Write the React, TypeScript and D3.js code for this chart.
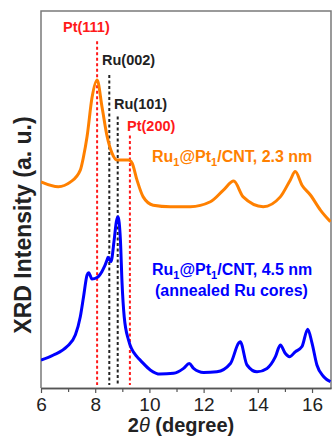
import React, { useEffect, useRef } from 'react';
import * as d3 from 'd3';

const orangeTheta = [6.0, 6.64, 7.08, 7.45, 7.57, 7.7, 7.88, 8.07, 8.25, 8.44, 8.62, 8.8, 9.04, 9.23, 9.36, 9.54, 9.77, 10.14, 10.77, 11.51, 12.25, 12.73, 13.11, 13.46, 14.2, 14.83, 15.2, 15.38, 15.63, 15.94, 16.31, 16.68];
const orangeInt = [54.7, 53.4, 54.6, 57.8, 61.4, 66.7, 76.9, 81.7, 74.6, 66.7, 62.3, 60.5, 60.5, 60.5, 59.7, 55.2, 50.7, 48.5, 48.1, 48.1, 49.4, 52.5, 54.9, 50.7, 48.1, 50.7, 55.2, 57.4, 53.8, 51.2, 47.2, 44.1];

const blueTheta = [6.0, 6.46, 6.96, 7.27, 7.45, 7.57, 7.7, 7.76, 7.88, 8.07, 8.25, 8.44, 8.47, 8.58, 8.7, 8.78, 8.84, 8.93, 8.99, 9.07, 9.23, 9.54, 9.66, 10.03, 10.39, 10.89, 11.26, 11.47, 11.63, 12.0, 12.49, 12.99, 13.29, 13.35, 13.6, 13.97, 14.34, 14.65, 14.83, 15.01, 15.17, 15.38, 15.63, 15.84, 16.0, 16.18, 16.43, 16.68];
const blueInt = [7.4, 8.75, 11.0, 14.1, 18.9, 24.2, 30.0, 30.6, 28.9, 29.3, 30.9, 34.0, 34.7, 33.5, 39.3, 44.1, 45.4, 39.3, 27.9, 18.9, 12.7, 8.3, 7.4, 4.8, 3.7, 3.9, 5.2, 6.5, 5.2, 4.1, 4.3, 6.5, 11.9, 12.3, 6.1, 4.3, 5.2, 8.3, 11.4, 9.2, 8.3, 9.6, 11.0, 15.6, 11.9, 6.1, 3.0, 1.7];

const refLabels = ['Pt(111)', 'Ru(002)', 'Ru(101)', 'Pt(200)'];
const refTheta = [8.07, 8.52, 8.83, 9.28];
const refTop = [92, 83, 72, 67];
const refColor = ['#ff1a1a', '#222222', '#222222', '#ff1a1a'];

const majorTicks = [6, 8, 10, 12, 14, 16];
const minorTicks = [7, 9, 11, 13, 15];

const W = 334;
const H = 438;

const App = () => {
  const svgRef = useRef<SVGSVGElement>(null);

  useEffect(() => {
    const svg = d3.select(svgRef.current);
    svg.selectAll('*').remove();

    const left = 41, right = 331, top = 11, bottom = 388;
    const font = 'Liberation Sans, Arial, sans-serif';

    const x = d3.scaleLinear().domain([6, 16.7]).range([left, right]);
    const y = d3.scaleLinear().domain([0, 100]).range([bottom, top]);

    svg.append('defs').append('clipPath').attr('id', 'plot')
      .append('rect').attr('x', left).attr('y', top).attr('width', right - left).attr('height', bottom - top);

    // frame
    svg.append('path')
      .attr('d', `M${left},${bottom}V${top}H${right}V${bottom}`)
      .attr('fill', 'none').attr('stroke', '#7a7a7a').attr('stroke-width', 1.5);

    // reference lines
    refTheta.forEach((t, i) => {
      svg.append('line')
        .attr('x1', x(t)).attr('x2', x(t))
        .attr('y1', y(refTop[i])).attr('y2', bottom - 3)
        .attr('stroke', refColor[i]).attr('stroke-width', 2)
        .attr('stroke-dasharray', '3,2.5');
    });

    const line = d3.line<number>()
      .x((d, i) => x(d))
      .curve(d3.curveMonotoneX);

    const plot = svg.append('g').attr('clip-path', 'url(#plot)');
    plot.append('path')
      .attr('d', line.y((d, i) => y(orangeInt[i]))(orangeTheta))
      .attr('fill', 'none').attr('stroke', '#ff8000').attr('stroke-width', 3)
      .attr('stroke-linejoin', 'round');
    plot.append('path')
      .attr('d', line.y((d, i) => y(blueInt[i]))(blueTheta))
      .attr('fill', 'none').attr('stroke', '#0000ff').attr('stroke-width', 3)
      .attr('stroke-linejoin', 'round');

    // reference labels
    const labelPos = [[63, 32], [102, 65], [114, 109], [127, 131]];
    refLabels.forEach((l, i) => {
      svg.append('text')
        .attr('x', labelPos[i][0]).attr('y', labelPos[i][1])
        .attr('font-family', font).attr('font-weight', 'bold').attr('font-size', 14.5)
        .attr('fill', refColor[i])
        .text(l);
    });

    // legends
    const legend = (tx: number, ty: number, color: string, tail: string) => {
      const t = svg.append('text').attr('x', tx).attr('y', ty)
        .attr('font-family', font).attr('font-weight', 'bold').attr('font-size', 16)
        .attr('fill', color);
      t.append('tspan').text('Ru');
      t.append('tspan').attr('dy', 4).attr('font-size', 11).text('1');
      t.append('tspan').attr('dy', -4).text('@Pt');
      t.append('tspan').attr('dy', 4).attr('font-size', 11).text('1');
      t.append('tspan').attr('dy', -4).text('/CNT, ' + tail);
    };
    legend(152, 162, '#ff8000', '2.3 nm');
    legend(152, 275, '#0000ff', '4.5 nm');
    svg.append('text').attr('x', 155).attr('y', 296)
      .attr('font-family', font).attr('font-weight', 'bold').attr('font-size', 16)
      .attr('fill', '#0000ff').text('(annealed Ru cores)');

    // x axis
    const ax = svg.append('g').attr('transform', `translate(0,${bottom})`);
    ax.call(d3.axisBottom(x).tickValues(majorTicks).tickSize(5).tickSizeOuter(0).tickPadding(5).tickFormat(d3.format('d')));
    ax.append('g').call(d3.axisBottom(x).tickValues(minorTicks).tickSize(4).tickSizeOuter(0).tickFormat(() => ''));
    ax.selectAll('.domain').attr('stroke', '#555').attr('stroke-width', 1.5);
    ax.selectAll('line').attr('stroke', '#555').attr('stroke-width', 1.2);
    ax.selectAll('text').attr('font-family', font).attr('font-size', 19).attr('fill', '#222');

    const xl = svg.append('text').attr('x', 181).attr('y', 432)
      .attr('text-anchor', 'middle')
      .attr('font-family', font).attr('font-weight', 'bold').attr('font-size', 20).attr('fill', '#222');
    xl.append('tspan').text('2');
    xl.append('tspan').attr('font-style', 'italic').attr('font-weight', 'normal').text('\u03b8 ');
    xl.append('tspan').text('(degree)');

    svg.append('text')
      .attr('transform', `translate(31,225) rotate(-90)`)
      .attr('text-anchor', 'middle')
      .attr('font-family', font).attr('font-weight', 'bold').attr('font-size', 23).attr('fill', '#222')
      .text('XRD Intensity (a. u.)');
  }, []);

  return (
    <svg ref={svgRef} width={W} height={H}
      style={{ position: 'absolute', left: 0, top: 0, background: '#fff' }} />
  );
};

export default App;
